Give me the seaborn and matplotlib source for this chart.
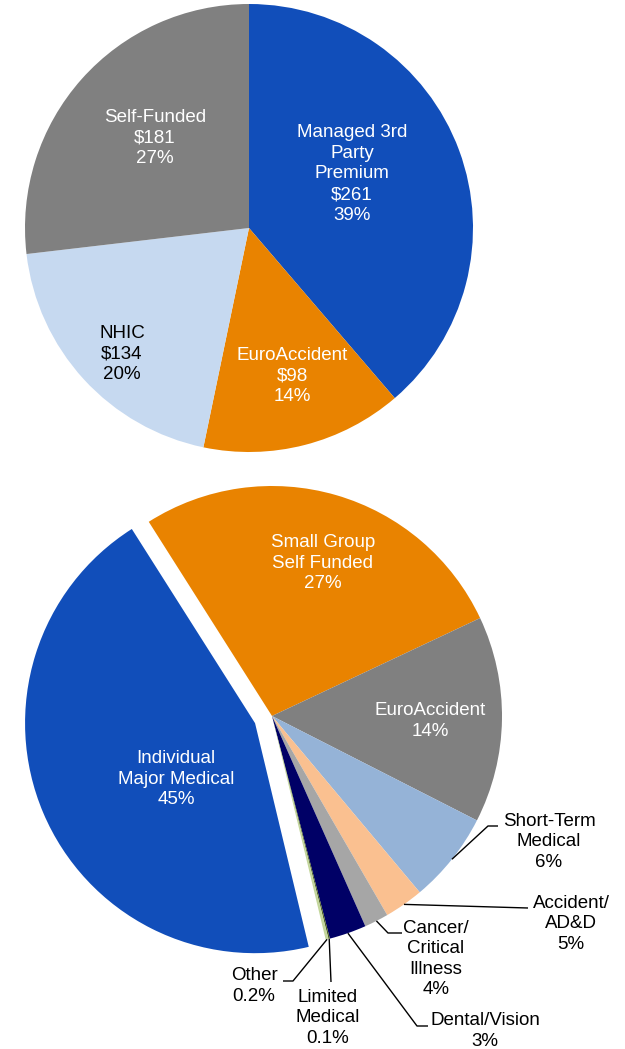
import numpy as np
import matplotlib
matplotlib.use("Agg")
import matplotlib.pyplot as plt
import seaborn as sns

# %% data
top_names = ["Managed 3rd\nParty\nPremium", "EuroAccident", "NHIC", "Self-Funded"]
top_dollars = [261, 98, 134, 181]
top_pct = ["39%", "14%", "20%", "27%"]

bottom_names = ["Small Group\nSelf Funded", "EuroAccident", "Short-Term\nMedical",
                "Accident/\nAD&D", "Cancer/\nCritical\nIllness", "Dental/Vision",
                "Limited\nMedical", "Other", "Individual\nMajor Medical"]
# wedge sizes as drawn (share of the circle)
bottom_shares = [27.0, 14.5, 6.4, 2.75, 1.7, 2.6, 0.1, 0.2, 44.75]
bottom_pct = ["27%", "14%", "6%", "5%", "4%", "3%", "0.1%", "0.2%", "45%"]

# %% style
sns.set_theme(style="white")
plt.rcParams['font.family'] = ['Liberation Sans', 'DejaVu Sans']
FS = 13.5
LS = 1.27

top_colors = sns.color_palette(["#114EBA", "#E98300", "#C6D9F0", "#808080"])
bottom_colors = sns.color_palette(["#E98300", "#808080", "#95B3D7", "#FAC090", "#A6A6A6",
                                   "#000066", "#4F6228", "#C3D69B", "#114EBA"])

W, H = 625, 1049
fig = plt.figure(figsize=(W / 100, H / 100), dpi=100)
ax = fig.add_axes([0, 0, 1, 1])


def P(x, y):
    # pixel position (origin top-left) -> data
    return x, H - y


# %% top pie
top_wedges, _ = ax.pie(top_dollars, colors=top_colors, startangle=90, counterclock=False,
                       center=P(249, 228), radius=224, wedgeprops=dict(linewidth=0))

top_text_pos = [(352, 174), (292, 376), (122, 354), (155, 138)]
top_text_col = ["white", "white", "black", "white"]
for name, d, pc, pos, col in zip(top_names, top_dollars, top_pct, top_text_pos, top_text_col):
    ax.text(*P(*pos), f"{name}\n${d}\n{pc}", ha='center', va='center',
            fontsize=FS, color=col, linespacing=LS)

# %% bottom pie
R = 230
explode = [0, 0, 0, 0, 0, 0, 0, 0, 0.08 * R]   # pie's explode is in data units
bot_wedges, _ = ax.pie(bottom_shares, colors=bottom_colors, startangle=122.4, counterclock=False,
                       center=P(272, 716), radius=R, explode=explode,
                       wedgeprops=dict(linewidth=0))

# inside labels
inside = {0: (323, 563), 1: (430, 721), 8: (176, 779)}
for i, pos in inside.items():
    ax.text(*P(*pos), f"{bottom_names[i]}\n{bottom_pct[i]}", ha='center', va='center',
            fontsize=FS, color='white', linespacing=LS)

# outside labels with leader lines: (text pos, elbow points)
outside = {
    2: ((549, 842), [(488, 826), (498, 826)]),
    3: ((571, 924), [(528, 908)]),
    4: ((436, 959), [(388, 933), (402, 933)]),
    5: ((485, 1031), [(417, 1026), (428, 1026)]),
    6: ((328, 1018), [(331, 982)]),
    7: ((254, 986), [(293, 981), (283, 981)]),
}
for i, (tpos, elbow) in outside.items():
    w = bot_wedges[i]
    ang = np.deg2rad((w.theta1 + w.theta2) / 2)
    x0 = w.center[0] + w.r * np.cos(ang)
    y0 = w.center[1] + w.r * np.sin(ang)
    xs = [x0] + [P(*e)[0] for e in elbow]
    ys = [y0] + [P(*e)[1] for e in elbow]
    ax.plot(xs, ys, color='black', lw=1.0, solid_capstyle='butt')
    ax.text(*P(*tpos), f"{bottom_names[i]}\n{bottom_pct[i]}", ha='center', va='center',
            fontsize=FS, color='black', linespacing=LS)

ax.set_xlim(0, W)
ax.set_ylim(0, H)
ax.set_aspect('equal')
ax.axis('off')

fig.savefig("out.png", dpi=100, facecolor='white')
